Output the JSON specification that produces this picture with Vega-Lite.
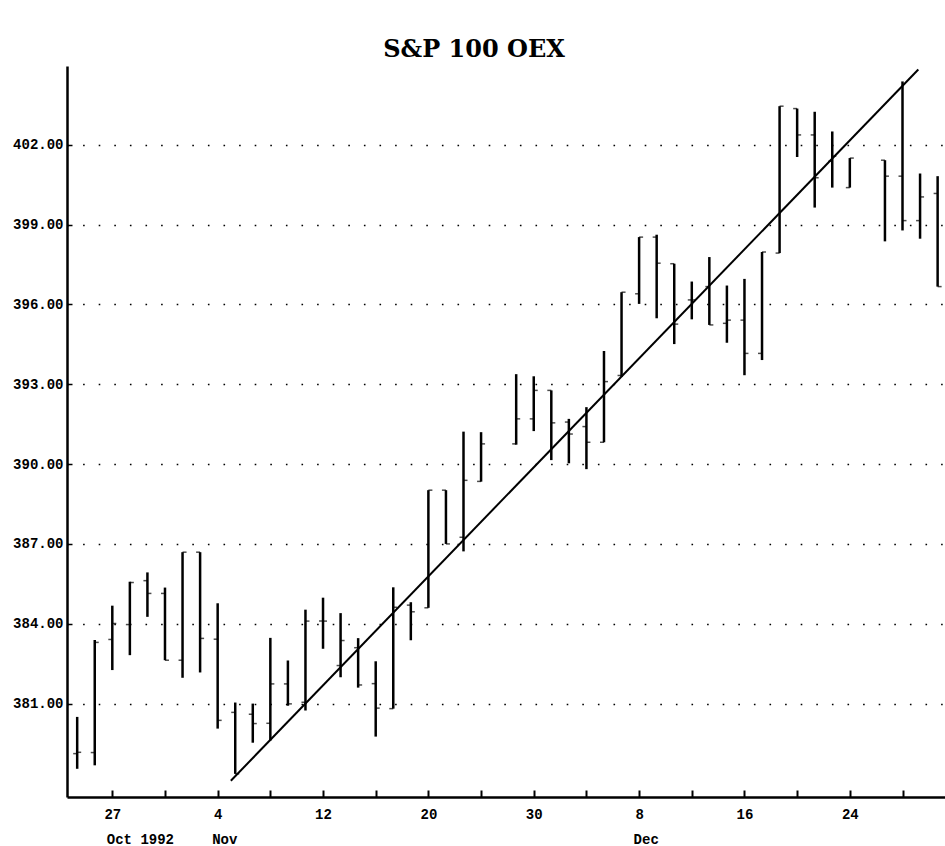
{
  "$schema": "https://vega.github.io/schema/vega-lite/v6.json",
  "autosize": "none",
  "padding": {"left": 67, "top": 66, "right": 0, "bottom": 49},
  "width": 878,
  "height": 731,
  "background": "white",
  "title": {
    "text": "S&P 100 OEX",
    "font": "DejaVu Serif",
    "fontSize": 24,
    "fontWeight": "bold",
    "color": "black",
    "anchor": "middle",
    "dx": -32,
    "dy": 25,
    "baseline": "alphabetic",
    "offset": 9
  },
  "config": {
    "view": {"stroke": null},
    "axis": {
      "labelFont": "Liberation Mono",
      "labelFontWeight": "bold",
      "labelFontSize": 14,
      "labelColor": "black",
      "domainColor": "black",
      "tickColor": "black"
    }
  },
  "data": {
    "values": [
      {"d": 0, "date": "1992-10-23", "o": 379.12, "h": 380.5, "l": 378.55, "c": 379.17},
      {"d": 1, "date": "1992-10-26", "o": 379.16, "h": 383.39, "l": 378.68, "c": 383.3},
      {"d": 2, "date": "1992-10-27", "o": 383.41, "h": 384.68, "l": 382.26, "c": 384.01},
      {"d": 3, "date": "1992-10-28", "o": 383.97, "h": 385.58, "l": 382.82, "c": 385.55},
      {"d": 4, "date": "1992-10-29", "o": 385.62, "h": 385.93, "l": 384.26, "c": 385.14},
      {"d": 5, "date": "1992-10-30", "o": 385.14, "h": 385.36, "l": 382.63, "c": 382.63},
      {"d": 6, "date": "1992-11-02", "o": 382.63, "h": 386.69, "l": 381.97, "c": 386.69},
      {"d": 7, "date": "1992-11-03", "o": 386.69, "h": 386.69, "l": 382.17, "c": 383.45},
      {"d": 8, "date": "1992-11-04", "o": 383.42, "h": 384.77, "l": 380.06, "c": 380.37},
      {"d": 9, "date": "1992-11-05", "o": 380.67, "h": 381.04, "l": 378.36, "c": 378.36},
      {"d": 10, "date": "1992-11-06", "o": 380.6, "h": 381.0, "l": 379.53, "c": 380.25},
      {"d": 11, "date": "1992-11-09", "o": 380.26, "h": 383.47, "l": 379.61, "c": 381.74},
      {"d": 12, "date": "1992-11-10", "o": 381.74, "h": 382.62, "l": 380.92, "c": 380.99},
      {"d": 13, "date": "1992-11-11", "o": 381.05, "h": 384.53, "l": 380.74, "c": 384.1},
      {"d": 14, "date": "1992-11-12", "o": 384.1, "h": 384.98, "l": 383.06, "c": 384.1},
      {"d": 15, "date": "1992-11-13", "o": 382.43, "h": 384.4, "l": 381.99, "c": 383.37},
      {"d": 16, "date": "1992-11-16", "o": 383.1, "h": 383.46, "l": 381.6, "c": 381.7},
      {"d": 17, "date": "1992-11-17", "o": 381.75, "h": 382.59, "l": 379.76, "c": 380.83},
      {"d": 18, "date": "1992-11-18", "o": 380.81, "h": 385.37, "l": 380.81, "c": 384.62},
      {"d": 19, "date": "1992-11-19", "o": 384.7, "h": 384.81, "l": 383.38, "c": 384.45},
      {"d": 20, "date": "1992-11-20", "o": 384.6, "h": 389.02, "l": 384.6, "c": 389.02},
      {"d": 21, "date": "1992-11-23", "o": 389.02, "h": 389.02, "l": 387.0, "c": 387.0},
      {"d": 22, "date": "1992-11-24", "o": 387.25, "h": 391.22, "l": 386.72, "c": 389.39},
      {"d": 23, "date": "1992-11-25", "o": 389.35, "h": 391.2, "l": 389.34, "c": 390.76},
      {"d": 25, "date": "1992-11-27", "o": 390.76, "h": 393.38, "l": 390.73, "c": 391.7},
      {"d": 26, "date": "1992-11-30", "o": 391.7, "h": 393.3, "l": 391.24, "c": 392.77},
      {"d": 27, "date": "1992-12-01", "o": 392.77, "h": 392.77, "l": 390.15, "c": 391.55},
      {"d": 28, "date": "1992-12-02", "o": 391.58, "h": 391.7, "l": 390.03, "c": 391.13},
      {"d": 29, "date": "1992-12-03", "o": 391.41, "h": 392.14, "l": 389.81, "c": 390.82},
      {"d": 30, "date": "1992-12-04", "o": 390.82, "h": 394.25, "l": 390.82, "c": 393.1},
      {"d": 31, "date": "1992-12-07", "o": 393.33, "h": 396.46, "l": 393.28, "c": 396.46},
      {"d": 32, "date": "1992-12-08", "o": 396.4, "h": 398.53, "l": 396.02, "c": 398.53},
      {"d": 33, "date": "1992-12-09", "o": 398.53, "h": 398.62, "l": 395.48, "c": 397.55},
      {"d": 34, "date": "1992-12-10", "o": 397.53, "h": 397.53, "l": 394.51, "c": 395.26},
      {"d": 35, "date": "1992-12-11", "o": 396.17, "h": 396.86, "l": 395.44, "c": 396.17},
      {"d": 36, "date": "1992-12-14", "o": 396.67, "h": 397.78, "l": 395.23, "c": 395.23},
      {"d": 37, "date": "1992-12-15", "o": 395.29, "h": 396.71, "l": 394.56, "c": 395.41},
      {"d": 38, "date": "1992-12-16", "o": 395.41, "h": 396.96, "l": 393.34, "c": 394.16},
      {"d": 39, "date": "1992-12-17", "o": 394.16, "h": 397.97, "l": 393.91, "c": 397.97},
      {"d": 40, "date": "1992-12-18", "o": 397.93, "h": 403.45, "l": 397.93, "c": 403.45},
      {"d": 41, "date": "1992-12-21", "o": 403.36, "h": 403.36, "l": 401.54, "c": 402.37},
      {"d": 42, "date": "1992-12-22", "o": 402.37, "h": 403.24, "l": 399.64, "c": 400.76},
      {"d": 43, "date": "1992-12-23", "o": 401.38, "h": 402.5, "l": 400.39, "c": 401.57},
      {"d": 44, "date": "1992-12-24", "o": 400.39, "h": 401.5, "l": 400.39, "c": 401.5},
      {"d": 46, "date": "1992-12-28", "o": 401.42, "h": 401.42, "l": 398.37, "c": 400.82},
      {"d": 47, "date": "1992-12-29", "o": 400.82, "h": 404.38, "l": 398.78, "c": 399.15},
      {"d": 48, "date": "1992-12-30", "o": 399.15, "h": 400.92, "l": 398.47, "c": 400.04},
      {"d": 49, "date": "1992-12-31", "o": 400.17, "h": 400.82, "l": 396.67, "c": 396.67}
    ]
  },
  "layer": [
    {
      "mark": {"type": "rule", "color": "black", "strokeWidth": 2.5},
      "encoding": {
        "x": {
          "field": "d", "type": "quantitative",
          "scale": {"domain": [-0.58, 49.42], "nice": false, "zero": false},
          "axis": {
            "orient": "bottom",
            "title": null,
            "values": [2, 5, 8, 11, 14, 17, 20, 23, 26, 29, 32, 35, 38, 41, 44, 47],
            "labelExpr": "datum.value==2?'27':datum.value==8?'4':datum.value==14?'12':datum.value==20?'20':datum.value==26?'30':datum.value==32?'8':datum.value==38?'16':datum.value==44?'24':''",
            "grid": false,
            "domainWidth": 2.5,
            "tickSize": -7,
            "tickWidth": 2,
            "labelPadding": 17,
            "labelFlush": false,
            "labelOverlap": false
          }
        },
        "y": {
          "field": "l", "type": "quantitative",
          "scale": {"domain": [377.49, 404.96], "nice": false, "zero": false},
          "axis": {
            "title": null,
            "values": [381, 384, 387, 390, 393, 396, 399, 402],
            "format": ".2f",
            "grid": true,
            "gridColor": "black",
            "gridDash": [1.6, 14],
            "gridWidth": 1.6,
            "domainWidth": 2.5,
            "tickSize": -5,
            "tickWidth": 1.5,
            "labelPadding": 9,
            "labelFlush": false,
            "labelOverlap": false
          }
        },
        "y2": {"field": "h"}
      }
    },
    {
      "mark": {"type": "tick", "orient": "horizontal", "color": "black", "size": 4, "thickness": 1.5, "xOffset": -2},
      "encoding": {
        "x": {"field": "d", "type": "quantitative", "scale": {"domain": [-0.58, 49.42], "nice": false, "zero": false}, "axis": null},
        "y": {"field": "o", "type": "quantitative", "scale": {"domain": [377.49, 404.96], "nice": false, "zero": false}}
      }
    },
    {
      "mark": {"type": "tick", "orient": "horizontal", "color": "black", "size": 4, "thickness": 1.5, "xOffset": 2},
      "encoding": {
        "x": {"field": "d", "type": "quantitative", "scale": {"domain": [-0.58, 49.42], "nice": false, "zero": false}, "axis": null},
        "y": {"field": "c", "type": "quantitative", "scale": {"domain": [377.49, 404.96], "nice": false, "zero": false}}
      }
    },
    {
      "data": {"values": [{"d": 8.75, "v": 378.1}, {"d": 47.9, "v": 404.83}]},
      "mark": {"type": "line", "color": "black", "strokeWidth": 2},
      "encoding": {
        "x": {
          "field": "d", "type": "quantitative",
          "scale": {"domain": [-0.58, 49.42], "nice": false, "zero": false},
          "axis": {
            "orient": "bottom",
            "title": null,
            "values": [2, 8, 32],
            "labelExpr": "datum.value==2?'Oct 1992':datum.value==8?'Nov':'Dec'",
            "labelAlign": "left",
            "labelOffset": -6,
            "labelPadding": 35,
            "domain": false,
            "ticks": false,
            "grid": false,
            "labelFlush": false,
            "labelOverlap": false
          }
        },
        "y": {"field": "v", "type": "quantitative", "scale": {"domain": [377.49, 404.96], "nice": false, "zero": false}}
      }
    }
  ],
  "resolve": {"axis": {"x": "independent"}}
}
